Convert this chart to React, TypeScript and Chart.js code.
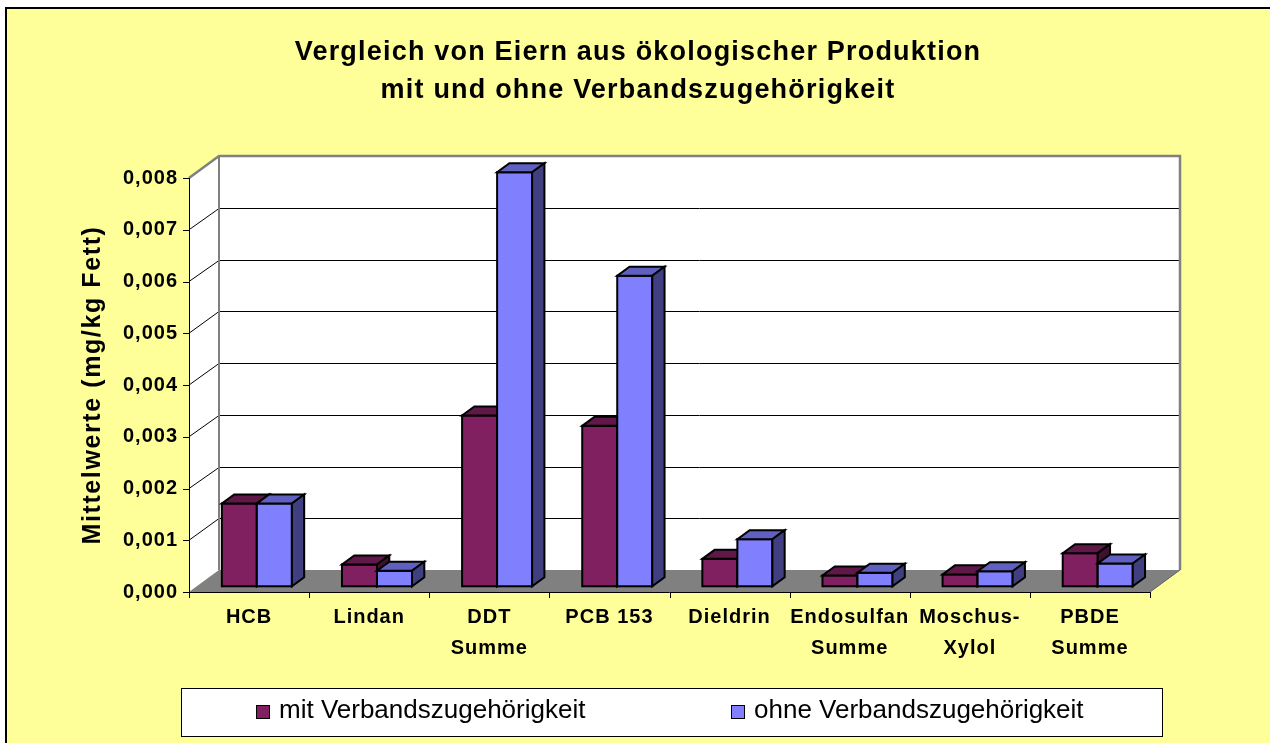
import React, { useEffect, useRef } from 'react';
import { Chart, registerables } from 'chart.js';

Chart.register(...registerables);

// ---------- data ----------
const titleLines = [
  'Vergleich von Eiern aus ökologischer Produktion',
  'mit und ohne Verbandszugehörigkeit',
];
const yAxisTitle = 'Mittelwerte (mg/kg Fett)';
const categories: (string | string[])[] = [
  'HCB',
  'Lindan',
  ['DDT', 'Summe'],
  'PCB 153',
  'Dieldrin',
  ['Endosulfan', 'Summe'],
  ['Moschus-', 'Xylol'],
  ['PBDE', 'Summe'],
];
const seriesNames = ['mit Verbandszugehörigkeit', 'ohne Verbandszugehörigkeit'];
const mitValues = [0.0016, 0.00042, 0.0033, 0.0031, 0.00053, 0.00021, 0.00023, 0.00064];
const ohneValues = [0.0016, 0.0003, 0.008, 0.006, 0.00091, 0.00026, 0.00029, 0.00044];
const yTickLabels = ['0,000', '0,001', '0,002', '0,003', '0,004', '0,005', '0,006', '0,007', '0,008'];
const yMin = 0;
const yMax = 0.008;
const yStep = 0.001;

// ---------- style ----------
const FONT = '"Liberation Sans", Arial, Helvetica, sans-serif';
const BG_YELLOW = '#FFFF99';
const seriesColors = [
  { front: '#802060', top: '#601848', side: '#401030' },
  { front: '#8080FF', top: '#6060C0', side: '#404080' },
];
const WALL_DX = 30;
const WALL_DY = 22;
const BAR_FRONT = 0.26;
const BAR_DEPTH = 0.41;

const px = (v: number) => Math.round(v) + 0.5;

const excel3d = {
  id: 'excel3d',
  beforeDraw(chart: any) {
    const ctx: CanvasRenderingContext2D = chart.ctx;
    const W = chart.width;
    const H = chart.height;
    const ys = chart.scales.y;
    const L = chart.chartArea.left;
    const R = chart.chartArea.right;
    const T = ys.getPixelForValue(yMax);
    const B = ys.getPixelForValue(yMin);
    ctx.save();
    ctx.letterSpacing = '0px';
    // page + chart background
    ctx.fillStyle = '#ffffff';
    ctx.fillRect(0, 0, W, H);
    ctx.fillStyle = BG_YELLOW;
    ctx.fillRect(6, 8, W, H);
    ctx.strokeStyle = '#000';
    ctx.lineWidth = 2;
    ctx.beginPath();
    ctx.moveTo(6, H + 5);
    ctx.lineTo(6, 8);
    ctx.lineTo(W + 5, 8);
    ctx.stroke();

    // side wall
    ctx.fillStyle = '#ffffff';
    ctx.beginPath();
    ctx.moveTo(L, T);
    ctx.lineTo(L + WALL_DX, T - WALL_DY);
    ctx.lineTo(L + WALL_DX, B - WALL_DY);
    ctx.lineTo(L, B);
    ctx.closePath();
    ctx.fill();
    // back wall
    ctx.fillRect(L + WALL_DX, T - WALL_DY, R - L, B - T);
    // floor
    ctx.fillStyle = '#808080';
    ctx.beginPath();
    ctx.moveTo(L, B);
    ctx.lineTo(R, B);
    ctx.lineTo(R + WALL_DX, B - WALL_DY);
    ctx.lineTo(L + WALL_DX, B - WALL_DY);
    ctx.closePath();
    ctx.fill();

    // gridlines
    ctx.strokeStyle = '#000';
    ctx.lineWidth = 1;
    ys.ticks.forEach((t: any) => {
      if (t.value <= yMin + 1e-9 || t.value >= yMax - 1e-9) return;
      const y = ys.getPixelForValue(t.value);
      ctx.beginPath();
      ctx.moveTo(L, y);
      ctx.lineTo(L + WALL_DX, px(y - WALL_DY));
      ctx.lineTo(R + WALL_DX, px(y - WALL_DY));
      ctx.stroke();
    });

    // wall borders
    ctx.strokeStyle = '#808080';
    ctx.lineWidth = 2.5;
    ctx.beginPath();
    ctx.moveTo(L, T);
    ctx.lineTo(L + WALL_DX, T - WALL_DY);
    ctx.lineTo(R + WALL_DX, T - WALL_DY);
    ctx.lineTo(R + WALL_DX, B - WALL_DY);
    ctx.stroke();
    ctx.lineWidth = 2;
    ctx.beginPath();
    ctx.moveTo(L + WALL_DX, T - WALL_DY);
    ctx.lineTo(L + WALL_DX, B - WALL_DY);
    ctx.stroke();
    ctx.strokeStyle = '#606060';
    ctx.lineWidth = 1;
    ctx.beginPath();
    ctx.moveTo(R, B);
    ctx.lineTo(R + WALL_DX, B - WALL_DY);
    ctx.stroke();

    // front axes
    ctx.strokeStyle = '#000';
    ctx.lineWidth = 1;
    ctx.beginPath();
    ctx.moveTo(px(L), T);
    ctx.lineTo(px(L), B + 6);
    ctx.moveTo(L, px(B));
    ctx.lineTo(R, px(B));
    ctx.stroke();
    ys.ticks.forEach((t: any) => {
      const y = px(ys.getPixelForValue(t.value));
      ctx.beginPath();
      ctx.moveTo(L - 6, y);
      ctx.lineTo(L, y);
      ctx.stroke();
    });
    const n = categories.length;
    for (let i = 0; i <= n; i++) {
      const x = px(L + ((R - L) * i) / n);
      ctx.beginPath();
      ctx.moveTo(x, B);
      ctx.lineTo(x, B + 6);
      ctx.stroke();
    }
    ctx.restore();
    ctx.letterSpacing = '1.6px';
  },
  beforeDatasetsDraw(chart: any) {
    const ctx: CanvasRenderingContext2D = chart.ctx;
    const bx = WALL_DX * BAR_FRONT;
    const by = WALL_DY * BAR_FRONT;
    const ddx = WALL_DX * BAR_DEPTH;
    const ddy = WALL_DY * BAR_DEPTH;
    ctx.save();
    ctx.strokeStyle = '#000';
    ctx.lineWidth = 2;
    ctx.lineJoin = 'miter';
    for (let j = 0; j < categories.length; j++) {
      for (let d = 0; d < chart.data.datasets.length; d++) {
        const el = chart.getDatasetMeta(d).data[j];
        if (!el) continue;
        const { x, y, base, width } = el.getProps(['x', 'y', 'base', 'width'], true);
        const c = seriesColors[d];
        const l = x - width / 2 + bx;
        const r = x + width / 2 + bx;
        const t = y - by;
        const b = base - by;
        // front
        ctx.fillStyle = c.front;
        ctx.fillRect(l, t, r - l, b - t);
        ctx.strokeRect(l, t, r - l, b - t);
        // top
        ctx.fillStyle = c.top;
        ctx.beginPath();
        ctx.moveTo(l, t);
        ctx.lineTo(r, t);
        ctx.lineTo(r + ddx, t - ddy);
        ctx.lineTo(l + ddx, t - ddy);
        ctx.closePath();
        ctx.fill();
        ctx.stroke();
        // side
        ctx.fillStyle = c.side;
        ctx.beginPath();
        ctx.moveTo(r, t);
        ctx.lineTo(r + ddx, t - ddy);
        ctx.lineTo(r + ddx, b - ddy);
        ctx.lineTo(r, b);
        ctx.closePath();
        ctx.fill();
        ctx.stroke();
      }
    }
    ctx.restore();
    ctx.letterSpacing = '1px';
    return false;
  },
  afterDraw(chart: any) {
    const ctx: CanvasRenderingContext2D = chart.ctx;
    ctx.save();
    // title
    ctx.letterSpacing = '1.2px';
    ctx.fillStyle = '#000';
    ctx.font = `bold 27px ${FONT}`;
    ctx.textAlign = 'center';
    ctx.textBaseline = 'alphabetic';
    ctx.fillText(titleLines[0], 638, 60);
    ctx.fillText(titleLines[1], 638, 98);
    // legend
    ctx.letterSpacing = '0px';
    ctx.fillStyle = '#ffffff';
    ctx.fillRect(181, 688, 981, 49);
    ctx.strokeStyle = '#000';
    ctx.lineWidth = 1;
    ctx.strokeRect(181.5, 688.5, 981, 48);
    const itemX = [256, 731];
    ctx.font = `26px ${FONT}`;
    ctx.textAlign = 'left';
    seriesNames.forEach((name, i) => {
      ctx.fillStyle = seriesColors[i].front;
      ctx.fillRect(itemX[i], 705, 14, 14);
      ctx.strokeStyle = '#000';
      ctx.strokeRect(itemX[i] + 0.5, 705.5, 13, 13);
      ctx.fillStyle = '#000';
      ctx.fillText(name, itemX[i] + 23, 718);
    });
    ctx.restore();
    ctx.letterSpacing = '0px';
  },
};

export default function App() {
  const ref = useRef<HTMLCanvasElement>(null);
  useEffect(() => {
    const canvas = ref.current;
    if (!canvas) return;
    const chart = new Chart(canvas, {
      type: 'bar',
      data: {
        labels: categories as any,
        datasets: [
          { label: seriesNames[0], data: mitValues, backgroundColor: seriesColors[0].front },
          { label: seriesNames[1], data: ohneValues, backgroundColor: seriesColors[1].front },
        ],
      },
      options: {
        responsive: false,
        maintainAspectRatio: false,
        devicePixelRatio: 1,
        animation: false,
        layout: { padding: { left: 59, right: 120, top: 178, bottom: 71 } },
        datasets: { bar: { categoryPercentage: 0.583, barPercentage: 1 } },
        plugins: {
          legend: { display: false },
          title: { display: false },
          tooltip: { enabled: false },
        },
        scales: {
          x: {
            offset: true,
            grid: { display: false, drawTicks: false },
            border: { display: false },
            ticks: {
              z: 1,
              color: '#000',
              padding: 10,
              maxRotation: 0,
              minRotation: 0,
              autoSkip: false,
              font: { family: FONT, size: 20, weight: 'bold', lineHeight: 1.55 },
            },
            afterFit: (s: any) => {
              s.height = 80;
            },
          },
          y: {
            min: yMin,
            max: yMax,
            grid: { display: false, drawTicks: false },
            border: { display: false },
            ticks: {
              z: 1,
              stepSize: yStep,
              color: '#000',
              padding: 11,
              font: { family: FONT, size: 20, weight: 'bold' },
              callback: (_v: any, i: number) => yTickLabels[i],
            },
            title: {
              display: true,
              text: yAxisTitle,
              color: '#000',
              font: { family: FONT, size: 25, weight: 'bold' },
              padding: { top: 19, bottom: 0 },
            },
            afterFit: (s: any) => {
              s.width = 130;
            },
          },
        },
      },
      plugins: [excel3d as any],
    });
    return () => chart.destroy();
  }, []);
  return (
    <div style={{ position: 'absolute', left: 0, top: 0, width: 1270, height: 743 }}>
      <canvas ref={ref} width={1270} height={743} style={{ display: 'block', width: 1270, height: 743 }} />
    </div>
  );
}
